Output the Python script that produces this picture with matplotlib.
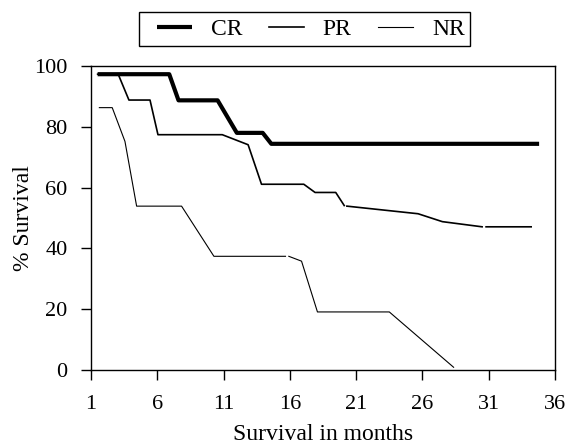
import numpy as np
import matplotlib
matplotlib.use("Agg")
import matplotlib.pyplot as plt
from matplotlib.patches import Rectangle

plt.rcParams['font.family'] = ['Liberation Serif', 'DejaVu Serif']

# Kaplan-Meier style curves (nan = small gap in the line)
nan = np.nan
cr_months = [1.5, 6.9, 7.6, 10.55, 12.0, 13.95, 14.6, 34.8]
cr_surv = [97.3, 97.3, 88.7, 88.7, 78.0, 78.0, 74.4, 74.4]

pr_months = [1.5, 3.05, 3.86, 5.45, 6.05, 10.9, 12.85, 13.86, 17.05, 17.9, 19.46, 20.1,
             nan, 20.3, 25.67, 27.5, 30.5, nan, 30.8, 34.2]
pr_surv = [97.3, 97.3, 88.8, 88.8, 77.4, 77.4, 74.1, 61.1, 61.1, 58.4, 58.4, 54.1,
           nan, 53.9, 51.4, 48.8, 47.1, nan, 47.1, 47.1]

nr_months = [1.63, 2.6, 3.56, 4.44, 7.83, 10.27, 15.67, nan, 15.92, 16.88, 18.08, 23.5, 28.35]
nr_surv = [86.3, 86.3, 75.2, 53.9, 53.9, 37.4, 37.4, nan, 37.4, 35.8, 19.1, 19.1, 0.9]

x_ticks = [1, 6, 11, 16, 21, 26, 31, 36]
y_ticks = [0, 20, 40, 60, 80, 100]

fig = plt.figure(figsize=(5.66, 4.48), dpi=100)
ax = fig.add_axes([0.1608, 0.1741, 0.8198, 0.6786])

ax.plot(nr_months, nr_surv, color='black', lw=0.8, label='NR', zorder=2)
ax.plot(pr_months, pr_surv, color='black', lw=1.2, label='PR', zorder=3)
ax.plot(cr_months, cr_surv, color='black', lw=3.0, label='CR', zorder=4,
        solid_capstyle='butt')

ax.set_xlim(1, 36)
ax.set_ylim(0, 100)
ax.set_xticks(x_ticks)
ax.set_yticks(y_ticks)
ax.tick_params(axis='both', direction='out', length=7, width=1, labelsize=16)
ax.tick_params(axis='x', pad=11)
ax.tick_params(axis='y', pad=10)
for s in ax.spines.values():
    s.set_linewidth(1)

ax.set_xlabel('Survival in months', fontsize=17, labelpad=7)
ax.set_ylabel('% Survival', fontsize=17, labelpad=0)

# legend box drawn separately so the side padding matches
fig.patches.append(Rectangle((0.2456, 0.8973), 0.5848, 0.0759, transform=fig.transFigure,
                             fill=False, edgecolor='black', lw=1))
handles, labels = ax.get_legend_handles_labels()
order = [2, 1, 0]
leg = fig.legend([handles[i] for i in order], [labels[i] for i in order],
                 loc='center', bbox_to_anchor=(0.549, 0.935), ncol=3, fontsize=17,
                 frameon=False, handlelength=1.5, handletextpad=0.8,
                 columnspacing=1.1, borderpad=0)

fig.savefig('out.png', dpi=100)
